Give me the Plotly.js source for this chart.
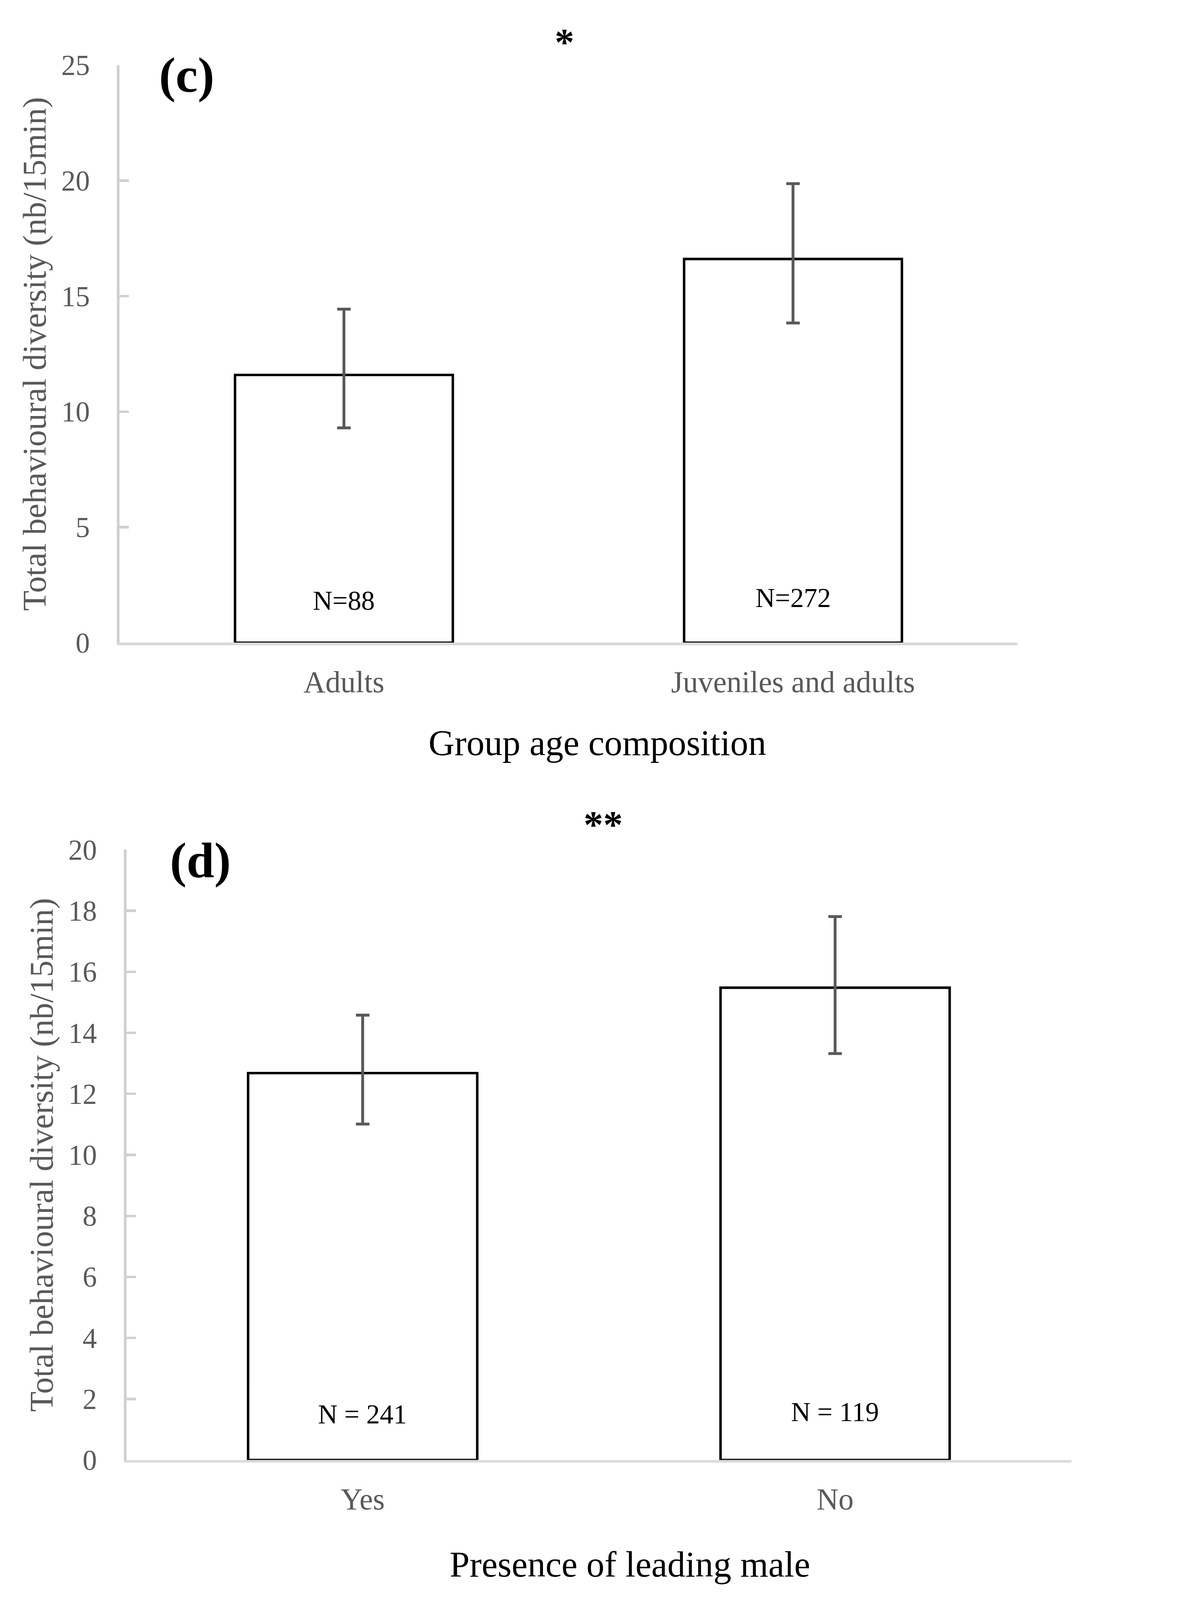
<!DOCTYPE html>
<html>
<head>
<meta charset="utf-8">
<script src="https://cdn.plot.ly/plotly-3.0.1.min.js"></script>
<style>
  html, body { margin: 0; padding: 0; background: #fff; overflow: hidden; }
</style>
</head>
<body>
<div id="chart"></div>
<script>
// panel (c): group age composition
const groupCats = ['Adults', 'Juveniles and adults'];
const groupMeans = [11.59, 16.61];
const groupLow = [9.30, 13.84];
const groupHigh = [14.44, 19.87];
const groupN = ['N=88', 'N=272'];
const groupNy = [1.83, 1.95];

// panel (d): presence of leading male
const maleCats = ['Yes', 'No'];
const maleMeans = [12.68, 15.48];
const maleLow = [11.01, 13.32];
const maleHigh = [14.58, 17.81];
const maleN = ['N = 241', 'N = 119'];
const maleNy = [1.50, 1.58];

const yTitle = 'Total behavioural diversity (nb/15min)';
const serif = 'Liberation Serif, Times New Roman, serif';
const grey = '#595959';

// the figure was drawn for 3049 px wide; fit whatever viewport we get
const W = window.innerWidth || 3049;
const H = window.innerHeight || 4491;
const s = Math.min(W / 3049, H / 4491);
const px = v => v * s;

function barTrace(cats, means, low, high, xa, ya) {
    return {
        type: 'bar',
        x: cats,
        y: means,
        xaxis: xa,
        yaxis: ya,
        width: 0.485,
        marker: {color: '#ffffff', line: {color: '#000000', width: px(7)}},
        error_y: {
            type: 'data',
            symmetric: false,
            array: high.map((h, i) => h - means[i]),
            arrayminus: low.map((l, i) => means[i] - l),
            color: grey,
            thickness: px(8),
            width: px(19)
        },
        hoverinfo: 'skip',
        showlegend: false
    };
}

function yAxis(domain, range, dtick, anchor) {
    return {
        domain: domain,
        anchor: anchor,
        range: range,
        dtick: dtick,
        tick0: 0,
        showgrid: false,
        zeroline: false,
        showline: true,
        linecolor: '#d0d0d0',
        linewidth: px(7),
        ticks: 'inside',
        ticklen: px(27),
        tickwidth: px(7),
        tickcolor: '#d0d0d0',
        // no-break spaces keep the numbers clear of the axis, as in the figure
        ticksuffix: '\u00a0\u00a0\u00a0',
        tickfont: {family: serif, size: px(80), color: grey},
        title: {text: yTitle, font: {family: serif, size: px(93), color: grey}, standoff: px(15)},
        fixedrange: true
    };
}

function xAxis(domain, anchor) {
    return {
        domain: domain,
        anchor: anchor,
        showgrid: false,
        zeroline: false,
        showline: true,
        linecolor: '#d9d9d9',
        linewidth: px(7),
        // invisible ticks only push the category labels down
        ticks: 'outside',
        ticklen: px(30),
        tickcolor: 'rgba(0,0,0,0)',
        tickfont: {family: serif, size: px(85), color: grey},
        fixedrange: true
    };
}

function nLabels(cats, texts, ys, xref, yref) {
    return cats.map((c, i) => ({
        x: c, y: ys[i], xref: xref, yref: yref,
        text: texts[i], showarrow: false,
        font: {family: serif, size: px(76), color: '#000000'}
    }));
}

function paperText(text, x, y, size, bold) {
    return {
        x: x, y: y, xref: 'paper', yref: 'paper',
        text: bold ? '<b>' + text + '</b>' : text,
        showarrow: false, xanchor: 'center', yanchor: 'middle',
        font: {family: serif, size: px(size), color: '#000000'}
    };
}

const data = [
    barTrace(groupCats, groupMeans, groupLow, groupHigh, 'x', 'y'),
    barTrace(maleCats, maleMeans, maleLow, maleHigh, 'x2', 'y2')
];

const layout = {
    width: 3049 * s,
    height: 4491 * s,
    margin: {l: 0, r: 0, t: 0, b: 0},
    paper_bgcolor: '#ffffff',
    plot_bgcolor: '#ffffff',
    font: {family: serif},
    xaxis: xAxis([0.1099, 0.9367], 'y'),
    yaxis: yAxis([0.5983, 0.9593], [0, 25], 5, 'x'),
    xaxis2: xAxis([0.1164, 0.9862], 'y2'),
    yaxis2: yAxis([0.0875, 0.4689], [0, 20], 2, 'x2'),
    annotations: [
        ...nLabels(groupCats, groupN, groupNy, 'x', 'y'),
        ...nLabels(maleCats, maleN, maleNy, 'x2', 'y2'),
        paperText('(c)', 0.1719, 0.9532, 140, true),
        paperText('(d)', 0.1843, 0.4625, 140, true),
        paperText('*', 0.5195, 0.9738, 110, true),
        paperText('**', 0.5553, 0.4847, 110, true),
        paperText('Group age composition', 0.550, 0.5357, 101, false),
        paperText('Presence of leading male', 0.580, 0.0223, 101, false)
    ]
};

Plotly.newPlot('chart', data, layout, {displayModeBar: false, staticPlot: true});
</script>
</body>
</html>
